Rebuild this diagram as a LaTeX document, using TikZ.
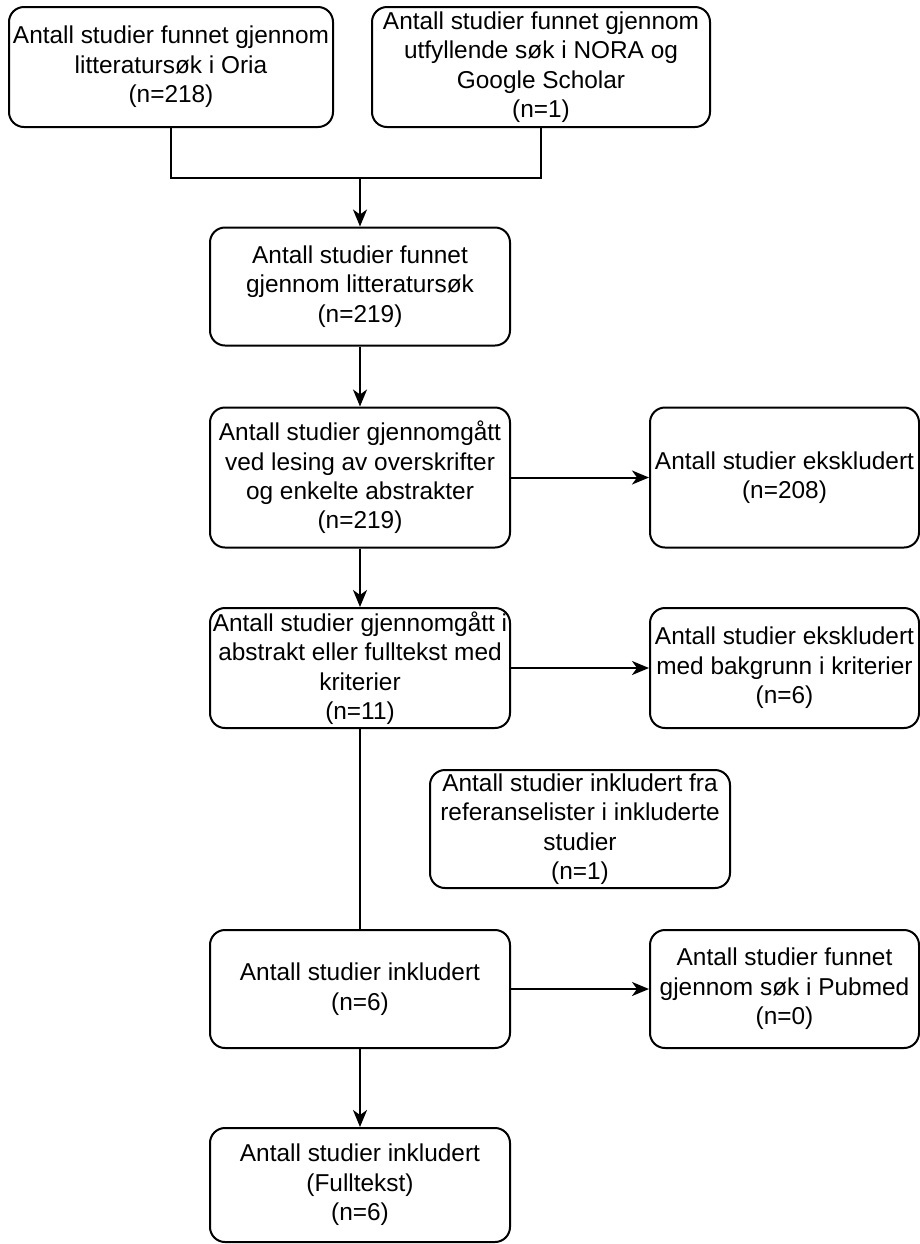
\documentclass[tikz,border=0pt]{standalone}
\usepackage{fontspec}
\setmainfont{Liberation Sans}
\usetikzlibrary{arrows.meta,positioning,calc}

\begin{document}
\begin{tikzpicture}[
  x=0.5pt, y=-0.5pt,
  box/.style={draw=black, line width=1pt, rounded corners=7.5pt, fill=white,
    font=\fontsize{12.2}{14.7}\selectfont, minimum width=150pt, minimum height=59pt,
    inner sep=1pt, align=center, text=black},
  arr/.style={-{Stealth[length=8.5pt, width=7pt, inset=2.5pt]}, line width=1pt},
  link/.style={line width=1pt}
]
  \useasboundingbox (0,0) rectangle (920,1244);

  % Search boxes
  \node[box, minimum width=162pt, minimum height=60pt] (oria) at (171,67)
    {Antall studier funnet gjennom\\litteratursøk i Oria\\(n=218)};
  \node[box, minimum width=169pt, minimum height=60pt] (nora) at (541,67)
    {Antall studier funnet gjennom\\utfyllende søk i NORA og\\Google Scholar\\(n=1)};
  \coordinate (join) at (360,178);

  % Main column
  \node[box] (litt) at (360,286.5)
    {Antall studier funnet\\gjennom litteratursøk\\(n=219)};
  \node[box, minimum height=70pt] (screen) at (360,477.5)
    {Antall studier gjennomgått\\ved lesing av overskrifter\\og enkelte abstrakter\\(n=219)};
  \node[box, minimum height=60pt] (full) at (360,668)
    {Antall studier gjennomgått i\\abstrakt eller fulltekst med\\kriterier\\(n=11)};
  \node[box] (ref) at (580,829)
    {Antall studier inkludert fra\\referanselister i inkluderte\\studier\\(n=1)};
  \node[box] (incl) at (360,989)
    {Antall studier inkludert\\(n=6)};
  \node[box, minimum height=57pt] (fulltext) at (360,1185)
    {Antall studier inkludert\\(Fulltekst)\\(n=6)};

  % Side boxes
  \node[box, minimum width=134.5pt, minimum height=70pt] (excl1) at (784.5,477.5)
    {Antall studier ekskludert\\(n=208)};
  \node[box, minimum width=134.5pt, minimum height=60pt] (excl2) at (784.5,668)
    {Antall studier ekskludert\\med bakgrunn i kriterier\\(n=6)};
  \node[box, minimum width=134.5pt] (pubmed) at (784.5,989)
    {Antall studier funnet\\gjennom søk i Pubmed\\(n=0)};

  % Arrows
  \draw[link] (oria.south) |- (join) -| (nora.south);
  \draw[arr] (join) -- (litt);
  \draw[arr] (litt) -- (screen);
  \draw[arr] (screen) -- (excl1);
  \draw[arr] (screen) -- (full);
  \draw[arr] (full) -- (excl2);
  \draw[link] (full) -- (incl);
  \draw[arr] (incl) -- (pubmed);
  \draw[arr] (incl) -- (fulltext);
\end{tikzpicture}
\end{document}
